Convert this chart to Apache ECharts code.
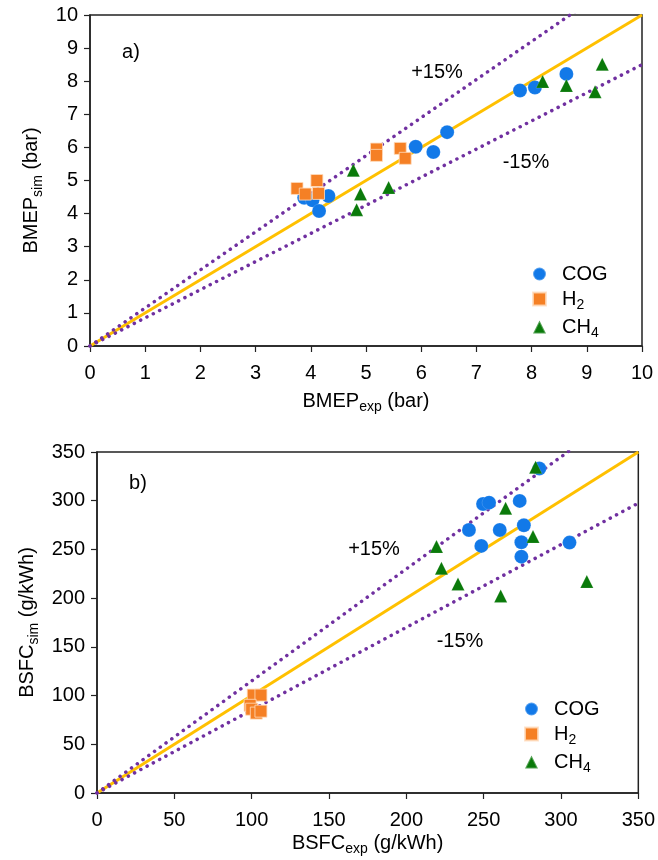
<!DOCTYPE html>
<html>
<head>
<meta charset="utf-8">
<script src="https://cdn.jsdelivr.net/npm/echarts@6/dist/echarts.min.js"></script>
<style>
html,body{margin:0;padding:0;background:#fff;}
#chart{width:658px;height:860px;}
</style>
</head>
<body>
<div id="chart"></div>
<script>
// ---- Data ----
const seriesNames = ['COG', 'H2', 'CH4'];

// Panel a) BMEP [exp, sim] (bar)
const bmepCOG = [[3.88,4.48],[4.03,4.40],[4.15,4.08],[4.32,4.53],[5.90,6.02],[6.22,5.86],[6.47,6.46],[7.79,7.72],[8.06,7.81],[8.63,8.22]];
const bmepH2  = [[3.75,4.76],[3.90,4.59],[4.11,5.00],[4.14,4.61],[5.19,5.95],[5.19,5.76],[5.62,5.97],[5.71,5.67]];
const bmepCH4 = [[4.77,5.31],[4.83,4.12],[4.90,4.59],[5.41,4.79],[8.20,7.99],[8.63,7.87],[9.15,7.68],[9.28,8.51]];

// Panel b) BSFC [exp, sim] (g/kWh)
const bsfcCOG = [[286,333],[249.6,296.7],[253.5,298],[273.3,299.8],[240.5,270],[260.4,270],[276,274.8],[248.5,253.6],[274.4,257.4],[274.4,242.6],[305.5,257]];
const bsfcH2  = [[101,100.5],[106,100.5],[99,90],[100,86],[103,82],[106,84]];
const bsfcCH4 = [[283.6,334.4],[264.2,292.3],[219.5,252.9],[281.9,263.2],[222.7,230.7],[233.4,214.6],[261,202.3],[316.7,217]];

// Reference lines: y = factor * x
const refFactors = [1, 1.15, 0.85];
const bandLabels = ['+15%', '-15%'];

// Axis ranges / ticks
const bmepAxis = {min: 0, max: 10, interval: 1};
const bsfcAxis = {min: 0, max: 350, interval: 50};

// ---- Styling ----
const FONT = '"Liberation Sans", Arial, sans-serif';
const colors = {COG: '#1279E8', H2: '#F58025', CH4: '#0A7A0A'};
const symbols = {COG: 'circle', H2: 'rect', CH4: 'triangle'};
const sizes = {COG: 14, H2: 12, CH4: 13};

const rich = {
  n: {fontSize: 20, fontFamily: FONT, color: '#000', lineHeight: 26},
  s: {fontSize: 14, fontFamily: FONT, color: '#000', lineHeight: 14, verticalAlign: 'bottom'}
};
function sub(main, s, tail) {
  return '{n|' + main + '}{s|' + s + '}' + (tail ? '{n|' + tail + '}' : '');
}
function legendFmt(name) {
  if (name === 'H2') return sub('H', '2');
  if (name === 'CH4') return sub('CH', '4');
  return '{n|' + name + '}';
}

function valueAxis(ax, gridIndex, name, nameGap, isY, namePad) {
  return {
    type: 'value', gridIndex: gridIndex,
    min: ax.min, max: ax.max, interval: ax.interval,
    name: name, nameLocation: 'middle', nameGap: nameGap,
    nameTextStyle: {rich: rich, padding: namePad || 0},
    axisLine: {show: true, onZero: false, lineStyle: {color: '#222', width: 1.5}},
    axisTick: {show: true, inside: false, length: 6, lineStyle: {color: '#222', width: 1.2}},
    axisLabel: {fontSize: 20, fontFamily: FONT, color: '#000', margin: isY ? 12 : 17},
    splitLine: {show: false}
  };
}

function refLines(ax, gi) {
  return refFactors.map((f, i) => ({
    type: 'line', xAxisIndex: gi, yAxisIndex: gi,
    name: 'ref' + gi + '_' + i,
    data: [[ax.min, ax.min * f], [ax.max, ax.max * f]],
    symbol: 'none', silent: true, clip: true, z: 1,
    lineStyle: i === 0
      ? {color: '#FFC000', width: 3}
      : {color: '#7030A0', width: 3.5, type: [0.1, 7], cap: 'round'}
  }));
}

function scatter(name, data, gi) {
  return {
    type: 'scatter', name: name, xAxisIndex: gi, yAxisIndex: gi,
    data: data, symbol: symbols[name], symbolSize: sizes[name], z: 3,
    itemStyle: {color: colors[name], opacity: 1,
      borderColor: name === 'H2' ? 'rgba(255,220,190,0.8)' : 'rgba(255,255,255,0.3)', borderWidth: name === 'H2' ? 1 : 0.5}
  };
}

function legend(left, top) {
  return {
    data: seriesNames, orient: 'vertical', left: left, top: top,
    itemWidth: 13, itemHeight: 13, itemGap: 5,
    formatter: legendFmt, selectedMode: false,
    textStyle: {rich: rich, padding: [0, 0, 0, 11]}
  };
}

function label(text, x, y) {
  return {type: 'text', x: x, y: y, z: 10,
    style: {text: text, font: '20px ' + FONT, fill: '#000', align: 'center', verticalAlign: 'middle'}};
}

const chart = echarts.init(document.getElementById('chart'), null, {renderer: 'canvas'});
chart.setOption({
  animation: false,
  backgroundColor: '#fff',
  grid: [
    {left: 90, right: 16, top: 15, height: 331, show: true, borderColor: '#222', borderWidth: 1.5, containLabel: false},
    {left: 97, right: 19, top: 452, height: 341, show: true, borderColor: '#222', borderWidth: 1.5, containLabel: false}
  ],
  xAxis: [
    valueAxis(bmepAxis, 0, sub('BMEP', 'exp', ' (bar)'), 42, false),
    valueAxis(bsfcAxis, 1, sub('BSFC', 'exp', ' (g/kWh)'), 37, false)
  ],
  yAxis: [
    valueAxis(bmepAxis, 0, sub('BMEP', 'sim', ' (bar)'), 36, true, [0, 20, 0, 0]),
    valueAxis(bsfcAxis, 1, sub('BSFC', 'sim', ' (g/kWh)'), 56, true)
  ],
  legend: [legend(527, 259), legend(519, 694)],
  series: [
    ...refLines(bmepAxis, 0),
    ...refLines(bsfcAxis, 1),
    scatter('COG', bmepCOG, 0), scatter('H2', bmepH2, 0), scatter('CH4', bmepCH4, 0),
    scatter('COG', bsfcCOG, 1), scatter('H2', bsfcH2, 1), scatter('CH4', bsfcCH4, 1)
  ],
  graphic: [
    label('a)', 131, 52),
    label('b)', 138, 483),
    label(bandLabels[0], 437, 72),
    label(bandLabels[1], 526, 162),
    label(bandLabels[0], 374, 549),
    label(bandLabels[1], 460, 641)
  ]
});
</script>
</body>
</html>
